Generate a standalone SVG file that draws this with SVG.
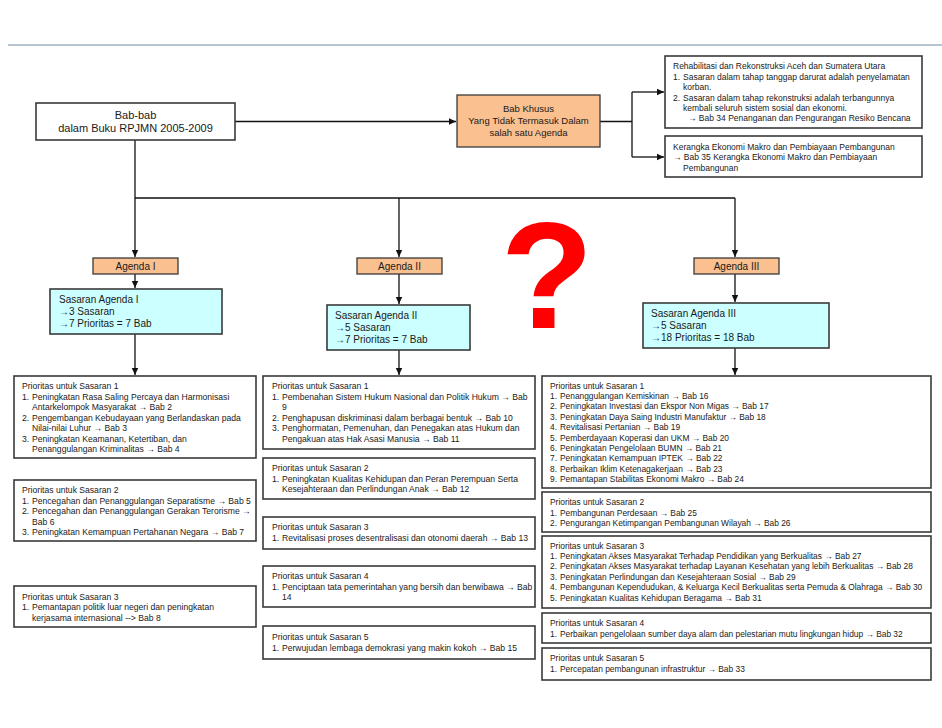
<svg xmlns="http://www.w3.org/2000/svg" width="942" height="728" viewBox="0 0 942 728">
<defs>
<marker id="ah" markerWidth="8" markerHeight="8" refX="7" refY="4" orient="auto" markerUnits="userSpaceOnUse">
<path d="M0,0.8 L7,4 L0,7.2 Z" fill="#111"/>
</marker>
<style>
.box{fill:#ffffff;stroke:#3a3a3a;stroke-width:1.6}
.org{fill:#fac090;stroke:#3a3a3a;stroke-width:1.3}
.cyan{fill:#ccffff;stroke:#3a3a3a;stroke-width:1.6}
.t{font-family:"Liberation Sans",Arial,sans-serif;font-size:8.6px;fill:#1a1a1a}
.r{font-size:8.4px}
.tt{font-family:"Liberation Sans",Arial,sans-serif;font-size:8.5px;fill:#1a1a1a}
.s{font-family:"Liberation Sans",Arial,sans-serif;font-size:10px;fill:#1a1a1a}
.c{text-anchor:middle}
.ln{fill:none;stroke:#111;stroke-width:1.3}
</style>
</defs>
<rect width="942" height="728" fill="#ffffff"/>
<line x1="8" y1="45" x2="942" y2="45" stroke="#9fb0c0" stroke-width="1.5"/>

<g id="connectors">
<path class="ln" d="M235,121.5 H456" marker-end="url(#ah)"/>
<path class="ln" d="M600,121.5 H632 M632,92 V157"/>
<path class="ln" d="M632,92 H664" marker-end="url(#ah)"/>
<path class="ln" d="M632,157 H664" marker-end="url(#ah)"/>
<path class="ln" d="M135,140 V257" marker-end="url(#ah)"/>
<path class="ln" d="M135,198 H735"/>
<path class="ln" d="M399,198 V257" marker-end="url(#ah)"/>
<path class="ln" d="M735,198 V257" marker-end="url(#ah)"/>
<path class="ln" d="M135,274 V288" marker-end="url(#ah)"/>
<path class="ln" d="M399,274 V304" marker-end="url(#ah)"/>
<path class="ln" d="M735,274 V302" marker-end="url(#ah)"/>
<path class="ln" d="M135,334 V375" marker-end="url(#ah)"/>
<path class="ln" d="M399,350 V375" marker-end="url(#ah)"/>
<path class="ln" d="M735,348 V375" marker-end="url(#ah)"/>
</g>

<g id="babbab">
<rect class="box" x="36" y="103" width="199" height="37"/>
<text class="s c" x="135.5" y="119" style="font-size:11px">Bab-bab</text>
<text class="s c" x="135.5" y="131.5" style="font-size:11px">dalam Buku RPJMN 2005-2009</text>
</g>

<g id="babkhusus">
<rect class="org" x="457" y="95" width="143" height="52"/>
<text class="s c" x="528.5" y="112" style="font-size:9.5px">Bab Khusus</text>
<text class="s c" x="528.5" y="124" style="font-size:9.5px">Yang Tidak Termasuk Dalam</text>
<text class="s c" x="528.5" y="135.5" style="font-size:9.5px">salah satu Agenda</text>
</g>

<g id="rehab">
<rect class="box" x="665" y="56" width="257" height="72"/>
<text class="tt" x="673" y="69">Rehabilitasi dan Rekonstruksi Aceh dan Sumatera Utara</text>
<text class="tt" x="673" y="80">1.<tspan x="683">Sasaran dalam tahap tanggap darurat adalah penyelamatan</tspan></text>
<text class="tt" x="683" y="90">korban.</text>
<text class="tt" x="673" y="100.5">2.<tspan x="683">Sasaran dalam tahap rekonstruksi adalah terbangunnya</tspan></text>
<text class="tt" x="683" y="110.5">kembali seluruh sistem sosial dan ekonomi.</text>
<text class="tt" x="688" y="121">→ Bab 34 Penanganan dan Pengurangan Resiko Bencana</text>
</g>

<g id="makro">
<rect class="box" x="665" y="136" width="257" height="41"/>
<text class="tt" x="673" y="149.5">Kerangka Ekonomi Makro dan Pembiayaan Pembangunan</text>
<text class="tt" x="673" y="160">→ Bab 35 Kerangka Ekonomi Makro dan Pembiayaan</text>
<text class="tt" x="683" y="170.5">Pembangunan</text>
</g>

<text x="547" y="328" text-anchor="middle" style="font-family:'Liberation Sans',Arial,sans-serif;font-size:152px;font-weight:bold;fill:#ff0000">?</text>

<g id="agenda1">
<rect class="org" x="93" y="258" width="85" height="16"/>
<text class="s c" x="135.5" y="269.5">Agenda I</text>
</g>
<g id="agenda2">
<rect class="org" x="357" y="258" width="85" height="16"/>
<text class="s c" x="399.5" y="269.5">Agenda II</text>
</g>
<g id="agenda3">
<rect class="org" x="694" y="258" width="85" height="16"/>
<text class="s c" x="736.5" y="269.5">Agenda III</text>
</g>

<g id="sasaran1">
<rect class="cyan" x="50" y="289" width="172" height="45"/>
<text class="s" x="59" y="302.5">Sasaran Agenda I</text>
<text class="s" x="59" y="314.5">→3 Sasaran</text>
<text class="s" x="59" y="326.5">→7 Prioritas = 7 Bab</text>
</g>
<g id="sasaran2">
<rect class="cyan" x="327" y="305" width="143" height="45"/>
<text class="s" x="335" y="318.5">Sasaran Agenda II</text>
<text class="s" x="335" y="330.5">→5 Sasaran</text>
<text class="s" x="335" y="342.5">→7 Prioritas = 7 Bab</text>
</g>
<g id="sasaran3">
<rect class="cyan" x="643" y="303" width="186" height="45"/>
<text class="s" x="651" y="316.5">Sasaran Agenda III</text>
<text class="s" x="651" y="328.5">→5 Sasaran</text>
<text class="s" x="651" y="340.5">→18 Prioritas = 18 Bab</text>
</g>

<g id="l1">
<rect class="box" x="14" y="376" width="242" height="82"/>
<text class="t" x="22" y="389">Prioritas untuk Sasaran 1</text>
<text class="t" x="22" y="399.5">1.<tspan x="32">Peningkatan Rasa Saling Percaya dan Harmonisasi</tspan></text>
<text class="t" x="32" y="410">Antarkelompok Masyarakat → Bab 2</text>
<text class="t" x="22" y="420.5">2.<tspan x="32">Pengembangan Kebudayaan yang Berlandaskan pada</tspan></text>
<text class="t" x="32" y="431">Nilai-nilai Luhur → Bab 3</text>
<text class="t" x="22" y="441.5">3.<tspan x="32">Peningkatan Keamanan, Ketertiban, dan</tspan></text>
<text class="t" x="32" y="452">Penanggulangan Kriminalitas → Bab 4</text>
</g>
<g id="l2">
<rect class="box" x="14" y="480" width="242" height="61"/>
<text class="t" x="22" y="493">Prioritas untuk Sasaran 2</text>
<text class="t" x="22" y="503.5">1.<tspan x="32">Pencegahan dan Penanggulangan Separatisme → Bab 5</tspan></text>
<text class="t" x="22" y="514">2.<tspan x="32">Pencegahan dan Penanggulangan Gerakan Terorisme →</tspan></text>
<text class="t" x="32" y="524.5">Bab 6</text>
<text class="t" x="22" y="535">3.<tspan x="32">Peningkatan Kemampuan Pertahanan Negara → Bab 7</tspan></text>
</g>
<g id="l3">
<rect class="box" x="14" y="586" width="242" height="41"/>
<text class="t" x="22" y="599.5">Prioritas untuk Sasaran 3</text>
<text class="t" x="22" y="610">1.<tspan x="32">Pemantapan politik luar negeri dan peningkatan</tspan></text>
<text class="t" x="32" y="620.5">kerjasama internasional --&gt; Bab 8</text>
</g>

<g id="m1">
<rect class="box" x="263" y="376" width="272" height="73"/>
<text class="t" x="272" y="389">Prioritas untuk Sasaran 1</text>
<text class="t" x="272" y="399.5">1.<tspan x="282">Pembenahan Sistem Hukum Nasional dan Politik Hukum → Bab</tspan></text>
<text class="t" x="282" y="410">9</text>
<text class="t" x="272" y="420.5">2.<tspan x="282">Penghapusan diskriminasi dalam berbagai bentuk → Bab 10</tspan></text>
<text class="t" x="272" y="431">3.<tspan x="282">Penghormatan, Pemenuhan, dan Penegakan atas Hukum dan</tspan></text>
<text class="t" x="282" y="441.5">Pengakuan atas Hak Asasi Manusia → Bab 11</text>
</g>
<g id="m2">
<rect class="box" x="263" y="458" width="272" height="41"/>
<text class="t" x="272" y="471">Prioritas untuk Sasaran 2</text>
<text class="t" x="272" y="481.5">1.<tspan x="282">Peningkatan Kualitas Kehidupan dan Peran Perempuan Serta</tspan></text>
<text class="t" x="282" y="492">Kesejahteraan dan Perlindungan Anak → Bab 12</text>
</g>
<g id="m3">
<rect class="box" x="263" y="517" width="272" height="32"/>
<text class="t" x="272" y="530">Prioritas untuk Sasaran 3</text>
<text class="t" x="272" y="541">1.<tspan x="282">Revitalisasi proses desentralisasi dan otonomi daerah → Bab 13</tspan></text>
</g>
<g id="m4">
<rect class="box" x="263" y="566" width="272" height="41"/>
<text class="t" x="272" y="579">Prioritas untuk Sasaran 4</text>
<text class="t" x="272" y="589.5">1.<tspan x="282">Penciptaan tata pemerintahan yang bersih dan berwibawa → Bab</tspan></text>
<text class="t" x="282" y="600">14</text>
</g>
<g id="m5">
<rect class="box" x="263" y="626" width="272" height="33"/>
<text class="t" x="272" y="639.5">Prioritas untuk Sasaran 5</text>
<text class="t" x="272" y="650.5">1.<tspan x="282">Perwujudan lembaga demokrasi yang makin kokoh → Bab 15</tspan></text>
</g>

<g id="r1">
<rect class="box" x="542" y="376" width="389" height="112"/>
<text class="t r" x="550" y="388.5">Prioritas untuk Sasaran 1</text>
<text class="t r" x="550" y="399">1.<tspan x="560">Penanggulangan Kemiskinan → Bab 16</tspan></text>
<text class="t r" x="550" y="409.4">2.<tspan x="560">Peningkatan Investasi dan Ekspor Non Migas → Bab 17</tspan></text>
<text class="t r" x="550" y="419.8">3.<tspan x="560">Peningkatan Daya Saing Industri Manufaktur → Bab 18</tspan></text>
<text class="t r" x="550" y="430.2">4.<tspan x="560">Revitalisasi Pertanian → Bab 19</tspan></text>
<text class="t r" x="550" y="440.6">5.<tspan x="560">Pemberdayaan Koperasi dan UKM → Bab 20</tspan></text>
<text class="t r" x="550" y="451">6.<tspan x="560">Peningkatan Pengelolaan BUMN → Bab 21</tspan></text>
<text class="t r" x="550" y="461.4">7.<tspan x="560">Peningkatan Kemampuan IPTEK → Bab 22</tspan></text>
<text class="t r" x="550" y="471.8">8.<tspan x="560">Perbaikan Iklim Ketenagakerjaan → Bab 23</tspan></text>
<text class="t r" x="550" y="482.2">9.<tspan x="560">Pemantapan Stabilitas Ekonomi Makro → Bab 24</tspan></text>
</g>
<g id="r2">
<rect class="box" x="542" y="492" width="389" height="40"/>
<text class="t r" x="550" y="505">Prioritas untuk Sasaran 2</text>
<text class="t r" x="550" y="515.5">1.<tspan x="560">Pembangunan Perdesaan → Bab 25</tspan></text>
<text class="t r" x="550" y="526">2.<tspan x="560">Pengurangan Ketimpangan Pembangunan Wilayah → Bab 26</tspan></text>
</g>
<g id="r3">
<rect class="box" x="542" y="536" width="389" height="72"/>
<text class="t r" x="550" y="548.5">Prioritas untuk Sasaran 3</text>
<text class="t r" x="550" y="559">1.<tspan x="560">Peningkatan Akses Masyarakat Terhadap Pendidikan yang Berkualitas → Bab 27</tspan></text>
<text class="t r" x="550" y="569.4">2.<tspan x="560">Peningkatan Akses Masyarakat terhadap Layanan Kesehatan yang lebih Berkualitas → Bab 28</tspan></text>
<text class="t r" x="550" y="579.8">3.<tspan x="560">Peningkatan Perlindungan dan Kesejahteraan Sosial → Bab 29</tspan></text>
<text class="t r" x="550" y="590.2">4.<tspan x="560">Pembangunan Kependudukan, &amp; Keluarga Kecil Berkualitas serta Pemuda &amp; Olahraga → Bab 30</tspan></text>
<text class="t r" x="550" y="600.6">5.<tspan x="560">Peningkatan Kualitas Kehidupan Beragama → Bab 31</tspan></text>
</g>
<g id="r4">
<rect class="box" x="542" y="613" width="389" height="30"/>
<text class="t r" x="550" y="625.5">Prioritas untuk Sasaran 4</text>
<text class="t r" x="550" y="636.5">1.<tspan x="560">Perbaikan pengelolaan sumber daya alam dan pelestarian mutu lingkungan hidup → Bab 32</tspan></text>
</g>
<g id="r5">
<rect class="box" x="542" y="648" width="389" height="32"/>
<text class="t r" x="550" y="661">Prioritas untuk Sasaran 5</text>
<text class="t r" x="550" y="672">1.<tspan x="560">Percepatan pembangunan infrastruktur → Bab 33</tspan></text>
</g>
</svg>
